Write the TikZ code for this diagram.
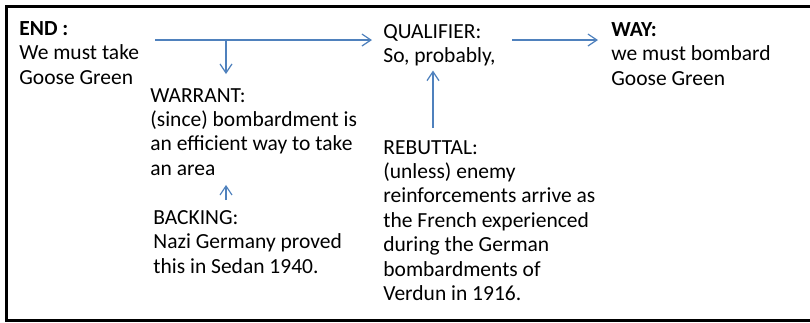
\documentclass[tikz,border=0pt]{standalone}
\usepackage{fontspec}
\setmainfont{Carlito}
\usetikzlibrary{arrows.meta}
\definecolor{arrowblue}{HTML}{4F81BD}

\begin{document}
\begin{tikzpicture}[x=0.5pt,y=-0.5pt,
	txt/.style={anchor=north west,inner sep=0pt,align=left,font=\fontsize{10.75}{12.2}\selectfont},
	arr/.style={->,>={Straight Barb[length=4.5pt,width=6pt]},draw=arrowblue,line width=0.6pt}]
	\useasboundingbox (0,0) rectangle (810,322);
	\draw[line width=1.5pt] (810,6) -- (6,6) -- (6,320) -- (810,320);

	\node[txt] (end) at (19,21) {\textbf{END :}\\We must take\\Goose Green};
	\node[txt] (warrant) at (150,88) {WARRANT:\\(since) bombardment is\\an efficient way to take\\an area};
	\node[txt] (backing) at (153,210) {BACKING:\\Nazi Germany proved\\this in Sedan 1940.};
	\node[txt] (qualifier) at (383,24) {QUALIFIER:\\So, probably,};
	\node[txt] (rebuttal) at (383,140) {REBUTTAL:\\(unless) enemy\\reinforcements arrive as\\the French experienced\\during the German\\bombardments of\\Verdun in 1916.};
	\node[txt] (way) at (611,22) {\textbf{WAY:}\\we must bombard\\Goose Green};

	% claim line, warrant hangs off it
	\coordinate (fork) at (226,40);
	\coordinate (rb) at (433,0);
	\draw[arr] ([xshift=8pt,yshift=-9.5pt]end.north east) -- ([xshift=-5.5pt]qualifier.west |- fork);
	\draw[arr] (fork) -- ([yshift=7pt]fork |- warrant.north);
	\draw[arr] ([yshift=5pt]fork |- backing.north) -- ([yshift=-4.5pt]fork |- warrant.south);
	\draw[arr] ([yshift=6pt]rb |- rebuttal.north) -- ([yshift=-2pt]rb |- qualifier.south);
	\draw[arr] ([xshift=8pt]qualifier.east |- fork) coordinate (q) -- ([xshift=-6.5pt]q -| way.west);
\end{tikzpicture}
\end{document}
